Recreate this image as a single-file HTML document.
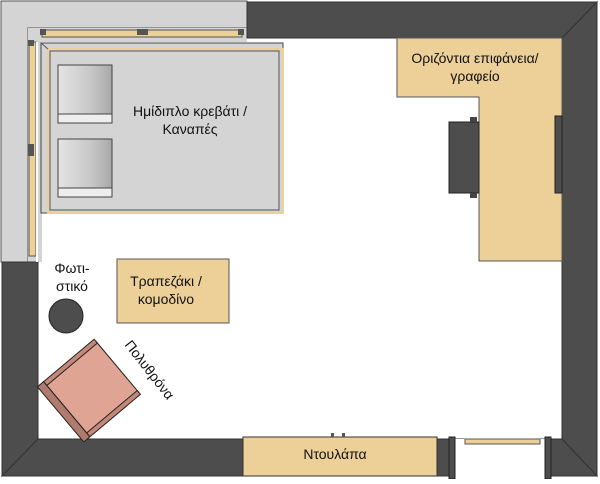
<!DOCTYPE html>
<html><head><meta charset="utf-8"><style>
body{margin:0;background:#fff}
text{font-family:"Liberation Sans",sans-serif;font-size:14px;fill:#111}
</style></head><body>
<svg width="600" height="479" viewBox="0 0 600 479" xmlns="http://www.w3.org/2000/svg">
<rect x="0" y="0" width="600" height="479" fill="#fff"/>
<!-- top-left gray area -->
<polygon points="1,1 247,1 247,28 28,28 28,262 1,262" fill="#d4d4d4" stroke="#555"/>
<rect x="28" y="28" width="14" height="234" fill="#d4d4d4"/>
<rect x="28" y="28" width="219" height="14" fill="#d4d4d4"/>
<!-- walls -->
<polygon points="247,2 597,2 562,38 247,38" fill="#4d4d4d" stroke="#333"/>
<polygon points="597,2 597,476 562,439 562,38" fill="#4d4d4d" stroke="#333"/>
<polygon points="2,262 38,262 38,439 2,476" fill="#4d4d4d" stroke="#333"/>
<polygon points="2,476 38,439 562,439 597,476" fill="#4d4d4d" stroke="#333"/>
<!-- window frames -->
<rect x="42" y="30" width="200" height="7" fill="#edcf98" stroke="#555"/>
<rect x="29" y="42" width="7" height="214" fill="#edcf98" stroke="#555"/>
<rect x="40" y="29" width="6" height="6" fill="#555"/><rect x="137" y="29" width="11" height="6" fill="#555"/><rect x="238" y="29" width="6" height="6" fill="#555"/>
<rect x="28" y="40" width="6" height="6" fill="#555"/><rect x="28" y="144" width="6" height="12" fill="#555"/>
<rect x="36" y="42" width="2" height="220" fill="#fff"/>
<!-- bed -->
<rect x="41" y="43" width="242" height="170" fill="#d4d4d4" stroke="#444"/>
<rect x="48" y="49" width="235" height="164" fill="#d4d4d4" stroke="#edcf98" stroke-width="2"/>
<rect x="50" y="51" width="229" height="159" fill="none" stroke="#555"/>
<line x1="41" y1="43" x2="48" y2="49" stroke="#555"/>
<defs><linearGradient id="pg" x1="0" x2="1"><stop offset="0" stop-color="#e4e4e4"/><stop offset="0.6" stop-color="#c8c8c8"/><stop offset="1" stop-color="#a8a8a8"/></linearGradient></defs>
<rect x="58" y="65" width="54" height="58" fill="url(#pg)" stroke="#444"/>
<rect x="58" y="114" width="54" height="9" fill="#eee" stroke="#444"/>
<rect x="58" y="139" width="54" height="58" fill="url(#pg)" stroke="#444"/>
<rect x="58" y="188" width="54" height="9" fill="#eee" stroke="#444"/>
<text x="190" y="116" text-anchor="middle">Ημίδιπλο κρεβάτι /</text>
<text x="190" y="134" text-anchor="middle">Καναπές</text>
<!-- desk -->
<polygon points="397,38 562,38 562,261 479,261 479,97 397,97" fill="#edcf98" stroke="#555"/>
<text x="475" y="63" text-anchor="middle">Οριζόντια επιφάνεια/</text>
<text x="475" y="81" text-anchor="middle">γραφείο</text>
<rect x="449" y="122" width="30" height="71" fill="#4d4d4d" stroke="#222"/>
<rect x="470" y="117" width="7" height="5" fill="#444"/><rect x="470" y="193" width="7" height="5" fill="#444"/>
<rect x="555" y="116" width="7" height="77" fill="#4d4d4d" stroke="#222"/>
<!-- lamp -->
<text x="72" y="273" text-anchor="middle">Φωτι-</text>
<text x="72" y="291" text-anchor="middle">στικό</text>
<circle cx="66" cy="316" r="17" fill="#4d4d4d" stroke="#222"/>
<!-- table -->
<rect x="117" y="259" width="112" height="64" fill="#edcf98" stroke="#555"/>
<text x="166" y="286" text-anchor="middle">Τραπεζάκι /</text>
<text x="166" y="304" text-anchor="middle">κομοδίνο</text>
<!-- armchair -->
<g transform="translate(92,388) rotate(-40)">
<rect x="-33" y="-33" width="66" height="66" fill="#dfa494" stroke="#222"/>
<rect x="-33" y="-36" width="66" height="5" fill="#c48878" stroke="#222"/>
<rect x="-33" y="31" width="66" height="5" fill="#c48878" stroke="#222"/>
<rect x="-41" y="-36" width="8" height="72" fill="#b07a6c" stroke="#222"/>
</g>
<text transform="translate(124,345) rotate(52)">Πολυθρόνα</text>
<!-- closet -->
<rect x="243" y="437" width="194" height="39" fill="#edcf98" stroke="#333"/>
<text x="335" y="459" text-anchor="middle">Ντουλάπα</text>
<rect x="331" y="433" width="3" height="4" fill="#555"/><rect x="342" y="433" width="3" height="4" fill="#555"/>
<!-- door -->
<rect x="455" y="439" width="95" height="38" fill="#fff"/>
<rect x="465" y="439" width="75" height="5" fill="#edcf98" stroke="#555"/>
<rect x="449" y="437" width="6" height="42" fill="#4d4d4d" stroke="#222"/>
<rect x="545" y="437" width="6" height="42" fill="#4d4d4d" stroke="#222"/>
</svg>
</body></html>
